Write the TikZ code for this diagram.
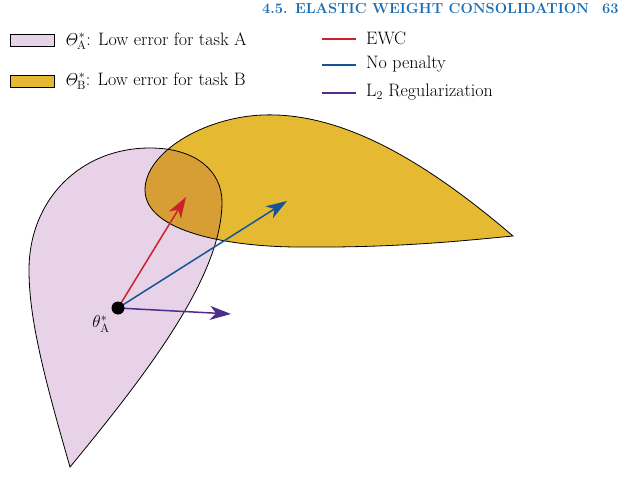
\documentclass[tikz,border=0pt]{standalone}
\usetikzlibrary{arrows.meta}

\definecolor{pinkA}{RGB}{232,210,232}
\definecolor{yellowB}{RGB}{229,186,50}
\definecolor{overlapAB}{RGB}{214,158,52}
\definecolor{ewcred}{RGB}{204,32,42}
\definecolor{nopenblue}{RGB}{22,84,152}
\definecolor{ltwopurple}{RGB}{78,46,140}
\definecolor{headblue}{RGB}{28,110,178}

% outlines of the two low-error regions
\newcommand{\regionApath}{(70,467) .. controls (45,380) and (29,320) .. (29,270)
  .. controls (29,200) and (80,148) .. (150,148)
  .. controls (197,148) and (222,172) .. (222,202)
  .. controls (222,275) and (150,370) .. (70,467) -- cycle}
\newcommand{\regionBpath}{(513,236) .. controls (430,165) and (345,112) .. (263,115)
  .. controls (205,117) and (145,152) .. (145,190)
  .. controls (145,232) and (230,247) .. (300,247)
  .. controls (400,248) and (470,240) .. (513,236) -- cycle}

\begin{document}
\begin{tikzpicture}[x=1pt, y=-1pt, font=\fontsize{18}{21}\selectfont,
    outline/.style={draw=black, line width=0.8pt},
    legbox/.style={draw, line width=0.8pt, minimum width=44pt, minimum height=12pt, inner sep=0pt},
    legtext/.style={anchor=west, inner sep=0pt},
    vec/.style={line width=1.5pt, -{Stealth[length=21pt, width=14pt, inset=6pt]}},
    dot/.style={circle, fill=black, minimum size=13pt, inner sep=0pt}]
    \useasboundingbox (0,0) rectangle (640,490);

    % header
    \node[anchor=north west, inner sep=0pt, text=headblue, font=\bfseries\fontsize{14.6}{17}\selectfont] (header) at (262,3) {4.5. ELASTIC WEIGHT CONSOLIDATION\hspace{13pt}63};

    % regions
    \fill[pinkA] \regionApath;
    \fill[yellowB] \regionBpath;
    \begin{scope}
        \clip \regionApath;
        \fill[overlapAB] \regionBpath;
    \end{scope}
    \draw[outline] \regionApath;
    \draw[outline] \regionBpath;

    % legend of regions
    \node[legbox, fill=pinkA] (boxA) at (32,40) {};
    \node[legtext] (textA) at (64,41) {$\mathit{\Theta}^*_{\mathrm{A}}$: Low error for task A};
    \node[legbox, fill=yellowB] (boxB) at (32,81) {};
    \node[legtext] (textB) at (64,81) {$\mathit{\Theta}^*_{\mathrm{B}}$: Low error for task B};

    % legend of updates
    \coordinate (ewcL) at (322,39);
    \coordinate (ewcR) at (356,39);
    \coordinate (nopL) at (322,65);
    \coordinate (nopR) at (356,65);
    \coordinate (ltwoL) at (322,93);
    \coordinate (ltwoR) at (356,93);
    \draw[ewcred, line width=1.2pt] (ewcL) -- (ewcR);
    \draw[nopenblue, line width=1.2pt] (nopL) -- (nopR);
    \draw[ltwopurple, line width=1.2pt] (ltwoL) -- (ltwoR);
    \node[legtext] (ewcText) at (366,38) {EWC};
    \node[legtext] (nopText) at (366,64) {No penalty};
    \node[legtext] (ltwoText) at (366,92) {L$_2$ Regularization};

    % updates from the task A optimum
    \coordinate (thetaA) at (118,308);
    \coordinate (ewcEnd) at (186,197);
    \coordinate (nopEnd) at (287,201);
    \coordinate (ltwoEnd) at (231,314);
    \draw[vec, ewcred] (thetaA) -- (ewcEnd);
    \draw[vec, nopenblue] (thetaA) -- (nopEnd);
    \draw[vec, ltwopurple] (thetaA) -- (ltwoEnd);
    \node[dot] (thetaDot) at (thetaA) {};
    \node (thetaLabel) at (101,324) {$\theta^*_{\mathrm{A}}$};
\end{tikzpicture}
\end{document}
